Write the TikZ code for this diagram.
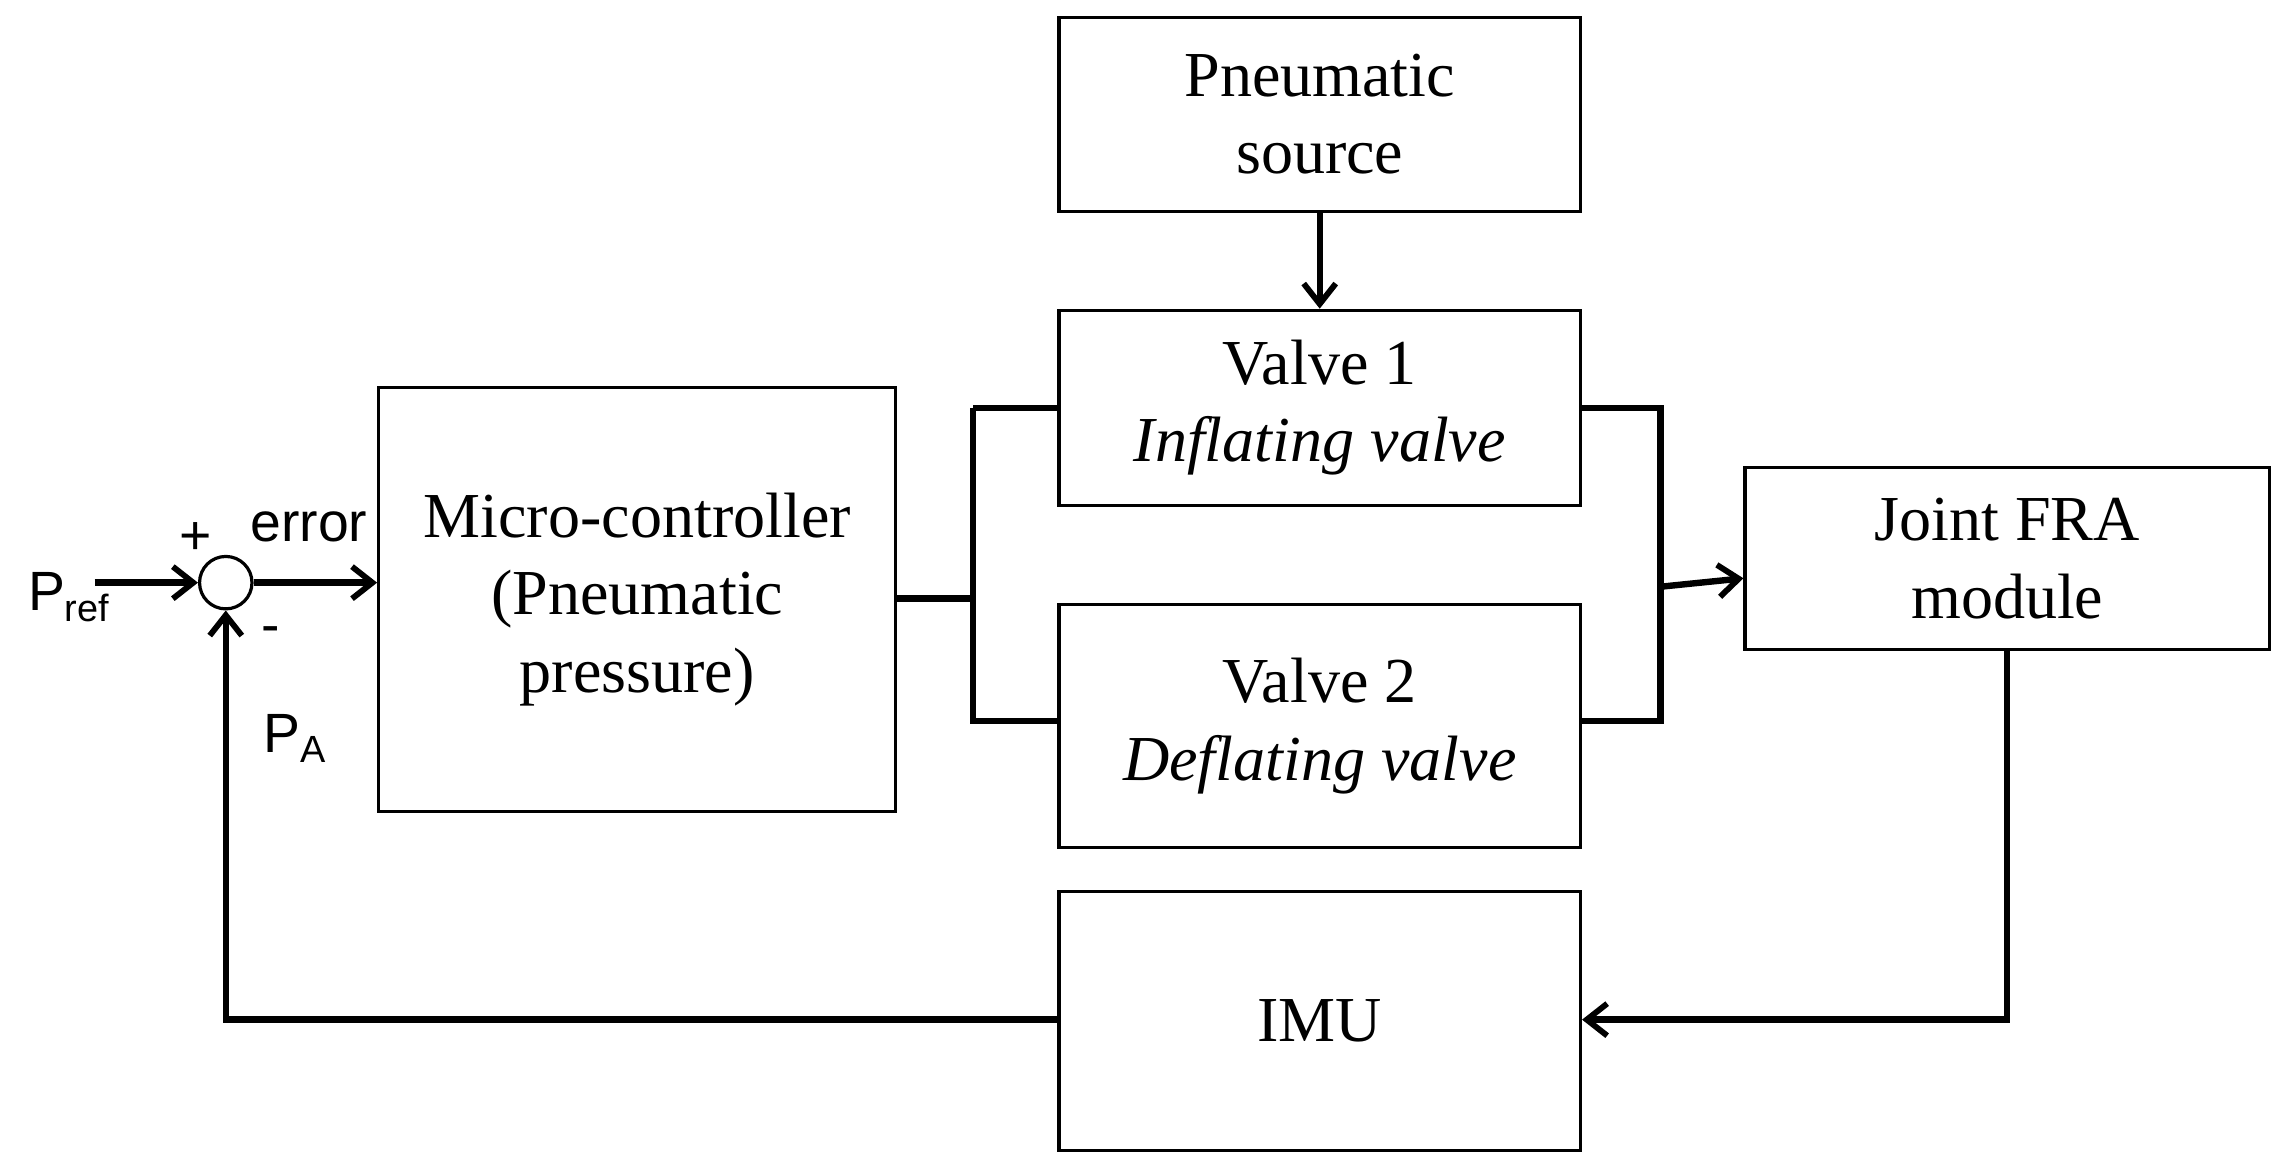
\documentclass[tikz,border=0pt]{standalone}
\usepackage{fontspec}
\setmainfont{Liberation Serif}
\newfontfamily\sansf{Liberation Sans}
\usetikzlibrary{arrows.meta}
\begin{document}
\begin{tikzpicture}[x=0.5pt,y=-0.5pt,
 box/.style={draw,line width=1.1pt,inner sep=0pt,align=center,font=\fontsize{22}{26.5}\selectfont},
 con/.style={line width=2.2pt},
 arr/.style={con,-{Straight Barb[length=7pt,width=11pt,line width=2pt]}},
 lab/.style={font=\sansf\fontsize{19}{22}\selectfont}]
\useasboundingbox (0,0) rectangle (1568,802);
\node[box,minimum width=179pt,minimum height=66.5pt] (src) at (906,78.5) {Pneumatic\\source};
\node[box,minimum width=179pt,minimum height=67pt] (v1) at (906,280) {Valve 1\\\textit{Inflating valve}};
\node[box,minimum width=179pt,minimum height=83.5pt] (v2) at (906,498.5) {Valve 2\\\textit{Deflating valve}};
\node[box,minimum width=177.5pt,minimum height=145.5pt] (mc) at (437.5,411.5) {Micro-controller\\(Pneumatic\\pressure)};
\node[box,minimum width=180pt,minimum height=62.5pt] (fra) at (1378,383.5) {Joint FRA\\module};
\node[box,minimum width=179pt,minimum height=89pt] (imu) at (906,701) {IMU};
\node[draw,circle,line width=1.1pt,minimum size=18pt,inner sep=0pt] (sum) at (155,400) {};
\coordinate (in) at (65,400);
\node[lab,anchor=east] (pref) at (82,410) {P\raisebox{-0.35ex}{\fontsize{13}{15}\selectfont ref}};
\node[lab] (plus) at (134,370) {+};
\node[lab] (err) at (212,362) {error};
\node[lab] (minus) at (186,436) {-};
\node[lab] (pa) at (202,507) {P\raisebox{-0.35ex}{\fontsize{13}{15}\selectfont A}};
\draw[arr] (in) -- (sum);
\draw[arr] (sum) -- (sum-|mc.west);
\draw[arr] (src) -- (v1);
\coordinate (bl) at (668,411);
\draw[con] (mc.east|-bl) -- (bl);
\draw[con] (668,280) -- (v1.west|-0,280);
\draw[con] (668,280) -- (668,495) -- (v2.west|-0,495);
\draw[con] (v1.east|-0,280) -- (1140,280) -- (1140,495) -- (v2.east|-0,495);
\draw[arr] (1138,403) -- (fra.west|-0,397);
\coordinate (c1) at (1378,700);
\draw[arr] (fra.south-|c1) -- (c1) -- (imu.east|-c1);
\coordinate (c2) at (155,700);
\draw[arr] (imu.west|-c2) -- (c2) -- (sum.south);
\end{tikzpicture}
\end{document}
